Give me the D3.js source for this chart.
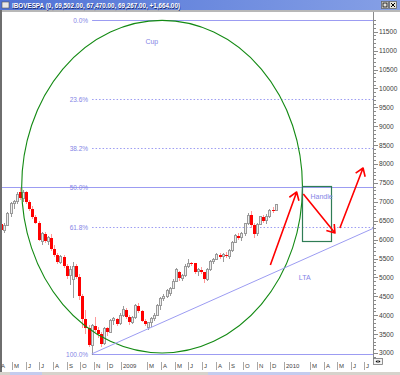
<!DOCTYPE html>
<html>
<head>
<meta charset="utf-8">
<script src="https://cdn.jsdelivr.net/npm/d3@7"></script>
<style>
  html, body { margin: 0; padding: 0; background: #fff; }
  svg { display: block; font-family: "Liberation Sans", Arial, sans-serif; }
</style>
</head>
<body>
<svg id="chart" width="400" height="375"></svg>
<script>
// weekly candles, IBOVESPA / 10, one per week starting on Monday
const firstWeek = "2008-03-31";
const opens  = [6080,6420,6250,6380,6680,6950,7000,7250,7100,7250, 7000,6800,6600,6450,5950,6150,5950,6050,5750,5600,
                5400,5550,5300,5050,4950,5300,5000,4500,3900,3650, 3200,3720,3600,3500,3250,3650,3550,3850,3900,3780,
                4000,4150,3950,3820,3950,4250,4100,3850,3680,3800, 3900,4000,4250,4450,4500,4580,4700,4900,5150,4980,
                5050,5300,5380,5370,5150,5200,5130,4950,5200,5420, 5480,5600,5550,5600,5560,5700,5920,6100,6050,6150,
                6420,6650,6380,6150,6400,6600,6500,6620,6780,6760];
const highs  = [6480,6480,6430,6720,7000,7060,7250,7360,7300,7280, 7050,6900,6650,6480,6200,6200,6100,6150,5850,5650,
                5600,5600,5350,5300,5400,5350,5100,4550,4150,3750, 3780,3950,3700,3550,3700,3700,3900,3950,3920,4050,
                4250,4180,4000,3980,4300,4320,4150,3900,3830,3950, 4050,4300,4480,4560,4680,4750,4950,5250,5180,5100,
                5350,5480,5420,5380,5250,5280,5150,5250,5450,5520, 5650,5650,5650,5680,5750,5950,6150,6180,6200,6450,
                6700,6750,6450,6450,6620,6650,6680,6820,6850,6950];
const lows   = [6050,6200,6180,6350,6600,6800,6950,7050,7000,6950, 6750,6550,6400,5950,5850,5900,5850,5700,5550,5350,
                5350,5250,4950,4800,4450,4950,4400,3650,3500,3150, 2950,3550,3400,3150,3200,3450,3520,3750,3720,3750,
                3950,3900,3750,3780,3900,4050,3820,3720,3600,3700, 3850,3980,4150,4380,4450,4520,4680,4880,4900,4900,
                5000,5250,5300,5080,5050,5080,4850,4900,5180,5350, 5450,5500,5400,5520,5500,5680,5900,5980,5950,6100,
                6380,6300,6050,6100,6380,6450,6400,6580,6700,6747];
const closes = [6420,6250,6380,6680,6950,7000,7200,7100,7250,7000, 6800,6600,6450,6000,6150,5950,6050,5750,5600,5400,
                5550,5300,5050,5200,5300,5000,4500,3900,3650,3200, 3720,3600,3500,3250,3650,3550,3850,3900,3780,4000,
                4150,3950,3820,3950,4250,4100,3850,3780,3800,3900, 4000,4250,4450,4500,4650,4700,4900,5200,4980,5050,
                5300,5380,5370,5150,5200,5130,4950,5200,5420,5480, 5600,5550,5600,5560,5700,5920,6100,6050,6150,6420,
                6650,6380,6150,6400,6600,6500,6620,6780,6760,6927];

// Fibonacci retracement
const fibHigh = 11800, fibLow = 2975;
const fibLevels = [0, 0.236, 0.382, 0.5, 0.618, 1];
const fibLabels = ["0.0%", "23.6%", "38.2%", "50.0%", "61.8%", "100.0%"];
const fibLabelDate = "2008-10-19";

// axes
const yTicks = d3.range(3000, 11501, 500);
const xTickLabels = ["A","M","J","J","A","S","O","N","D","2009","M","A","M","J","J","A","S","O","N","D","2010","M","A","M","J","J"];

// drawn annotations (date, value)
const cupDates = ["2008-05-23", "2010-02-12"], cupValues = [3000, 11800];
const handleDates = ["2010-02-10", "2010-04-16"], handleValues = [5960, 7420];
const ltaFrom = ["2008-10-27", 2975], ltaTo = ["2010-07-20", 6294];
const arrowFrom = [["2009-12-02", 5330], ["2010-02-14", 7206], ["2010-05-07", 6307]];
const arrowTo   = [["2010-01-30", 7260], ["2010-04-26", 6175], ["2010-06-28", 7894]];
const noteTexts = ["Cup", "Handle", "LTA"];
const noteDates = ["2009-03-11", "2010-03-27", "2010-02-17"];
const noteValues = [11250, 7150, 5010];

const title = "IBOVESPA (0, 69,502.00, 67,470.00, 69,267.00, +1,664.00)";

const parse = d3.timeParse("%Y-%m-%d");
const svg = d3.select("#chart");
const W = 400, H = 375;
const plot = { left: 2, right: 373, top: 12, bottom: 358 };

const x = d3.scaleTime()
  .domain([new Date(2008, 3, 1), new Date(2010, 6, 1)])
  .range([-1.5, 364.4]);
const y = d3.scaleLinear().domain([3000, 11500]).range([353, 31.7]);

const weeks = d3.timeMonday.range(parse(firstWeek), d3.timeDay.offset(parse(firstWeek), 7 * opens.length));
const candles = weeks.map((d, i) => ({ date: d, o: opens[i], h: highs[i], l: lows[i], c: closes[i] }));

const lavender = "#9c9cf2", labelBlue = "#8585e6";

// background
svg.append("rect").attr("width", W).attr("height", H).attr("fill", "#fff");

// title bar
const grad = svg.append("defs").append("linearGradient").attr("id", "tb");
grad.append("stop").attr("offset", "0%").attr("stop-color", "#4f72d6");
grad.append("stop").attr("offset", "100%").attr("stop-color", "#86a0e6");
svg.append("rect").attr("width", W).attr("height", 10).attr("fill", "url(#tb)");
svg.append("rect").attr("y", 10).attr("width", W).attr("height", 2).attr("fill", "#b8b8b8");
svg.append("rect").attr("x", 2).attr("y", 2).attr("width", 7).attr("height", 6)
  .attr("fill", "#e8e8e8").attr("stroke", "#555").attr("stroke-width", 0.6);
svg.append("text").attr("x", 12.6).attr("y", 8.6).text(title)
  .attr("font-size", 7).attr("font-weight", "bold").attr("fill", "#1a2a70")
  .attr("textLength", 168).attr("lengthAdjust", "spacingAndGlyphs");
svg.append("text").attr("x", 12).attr("y", 8).text(title)
  .attr("font-size", 7).attr("font-weight", "bold").attr("fill", "#fff")
  .attr("textLength", 168).attr("lengthAdjust", "spacingAndGlyphs");
[381, 389].forEach((bx, i) => {
  svg.append("rect").attr("x", bx + 0.5).attr("y", 1.5).attr("width", 7).attr("height", 7)
    .attr("fill", "#e4e2dc").attr("stroke", "#666").attr("stroke-width", 0.8);
  if (i === 0) {
    svg.append("rect").attr("x", bx + 2).attr("y", 3).attr("width", 4).attr("height", 4)
      .attr("fill", "none").attr("stroke", "#000").attr("stroke-width", 0.8);
  } else {
    svg.append("path").attr("d", `M${bx + 2},3 L${bx + 6},7 M${bx + 6},3 L${bx + 2},7`)
      .attr("stroke", "#000").attr("stroke-width", 1);
  }
});

// window left border
svg.append("rect").attr("x", 0).attr("y", 10).attr("width", 2).attr("height", 362).attr("fill", "#6e6e6e");

// clip for the price pane
svg.append("defs").append("clipPath").attr("id", "pane")
  .append("rect").attr("x", plot.left).attr("y", plot.top)
  .attr("width", plot.right - plot.left).attr("height", plot.bottom - plot.top);
const pane = svg.append("g").attr("clip-path", "url(#pane)");

// fibonacci lines
const fibX = x(parse(fibLabelDate));
fibLevels.forEach((p, i) => {
  const v = fibHigh - p * (fibHigh - fibLow);
  const yy = Math.round(y(v)) + 0.5;
  const dotted = ![0, 0.5, 1].includes(p);
  pane.append("line")
    .attr("x1", p === 0.5 ? plot.left : fibX + 4).attr("x2", plot.right)
    .attr("y1", yy).attr("y2", yy)
    .attr("stroke", lavender).attr("stroke-width", 1)
    .attr("stroke-dasharray", dotted ? "1.5,2" : null);
  pane.append("text").attr("x", fibX).attr("y", yy + 2.3)
    .attr("text-anchor", "end").attr("font-size", 6.5).attr("fill", labelBlue)
    .text(fibLabels[i]);
});

// candles
const cg = pane.append("g").attr("shape-rendering", "crispEdges");
cg.selectAll("line.wick").data(candles).join("line")
  .attr("class", "wick")
  .attr("x1", d => Math.round(x(d.date)) + 0.5).attr("x2", d => Math.round(x(d.date)) + 0.5)
  .attr("y1", d => y(d.h)).attr("y2", d => y(d.l))
  .attr("stroke", d => d.c >= d.o ? "#9a9a9a" : "#ff9a9a");
cg.selectAll("rect.body").data(candles).join("rect")
  .attr("class", "body")
  .attr("x", d => d.c >= d.o ? Math.round(x(d.date)) - 0.5 : Math.round(x(d.date)) - 1)
  .attr("width", d => d.c >= d.o ? 2 : 3)
  .attr("y", d => y(Math.max(d.o, d.c)))
  .attr("height", d => Math.max(1, y(Math.min(d.o, d.c)) - y(Math.max(d.o, d.c))))
  .attr("fill", d => d.c >= d.o ? "#eeeeee" : "#ff0000")
  .attr("stroke", d => d.c >= d.o ? "#9a9a9a" : "none")
  .attr("stroke-width", 1);

// cup
const cx0 = x(parse(cupDates[0])), cx1 = x(parse(cupDates[1]));
const cy0 = y(cupValues[1]), cy1 = y(cupValues[0]);
pane.append("ellipse")
  .attr("cx", (cx0 + cx1) / 2).attr("cy", (cy0 + cy1) / 2)
  .attr("rx", (cx1 - cx0) / 2).attr("ry", (cy1 - cy0) / 2)
  .attr("fill", "none").attr("stroke", "#138a13").attr("stroke-width", 1.1);

// LTA trend line
pane.append("line")
  .attr("x1", x(parse(ltaFrom[0]))).attr("y1", y(ltaFrom[1]))
  .attr("x2", x(parse(ltaTo[0]))).attr("y2", y(ltaTo[1]))
  .attr("stroke", lavender).attr("stroke-width", 1);

// handle box
const hx0 = Math.round(x(parse(handleDates[0]))) + 0.5, hx1 = Math.round(x(parse(handleDates[1]))) + 0.5;
const hy0 = Math.round(y(handleValues[1])) + 0.5, hy1 = Math.round(y(handleValues[0])) + 0.5;
pane.append("rect").attr("x", hx0).attr("y", hy0).attr("width", hx1 - hx0).attr("height", hy1 - hy0)
  .attr("fill", "none").attr("stroke", "#2f7d55").attr("stroke-width", 1.2);

// red arrows
arrowFrom.forEach((f, i) => {
  const x1 = x(parse(f[0])), y1 = y(f[1]);
  const x2 = x(parse(arrowTo[i][0])), y2 = y(arrowTo[i][1]);
  const a = Math.atan2(y2 - y1, x2 - x1) + Math.PI, len = 9, spread = 0.6;
  const p = d3.path();
  p.moveTo(x1, y1); p.lineTo(x2, y2);
  p.moveTo(x2 + len * Math.cos(a - spread), y2 + len * Math.sin(a - spread));
  p.lineTo(x2, y2);
  p.lineTo(x2 + len * Math.cos(a + spread), y2 + len * Math.sin(a + spread));
  pane.append("path").attr("d", p.toString())
    .attr("fill", "none").attr("stroke", "#ff0000").attr("stroke-width", 1.6)
    .attr("stroke-linejoin", "round");
});

// notes
noteTexts.forEach((t, i) => {
  pane.append("text").attr("x", x(parse(noteDates[i]))).attr("y", y(noteValues[i]) + 2.5)
    .attr("text-anchor", "middle").attr("font-size", 7).attr("fill", labelBlue).text(t);
});

// right price axis
const ax = svg.append("g").attr("shape-rendering", "crispEdges");
ax.append("line").attr("x1", plot.right + 0.5).attr("x2", plot.right + 0.5)
  .attr("y1", plot.top).attr("y2", plot.bottom).attr("stroke", "#8a8a8a");
const minor = d3.range(2900, 11900, 100).filter(v => y(v) > plot.top && y(v) < plot.bottom);
ax.selectAll("line.mt").data(minor).join("line").attr("class", "mt")
  .attr("x1", plot.right).attr("x2", d => plot.right + (d % 500 === 0 ? 5 : 3))
  .attr("y1", d => Math.round(y(d)) + 0.5).attr("y2", d => Math.round(y(d)) + 0.5)
  .attr("stroke", "#8a8a8a");
svg.selectAll("text.yl").data(yTicks).join("text").attr("class", "yl")
  .attr("x", 379).attr("y", d => y(d) + 2.4)
  .attr("font-size", 6.6).attr("fill", "#3c3c3c").text(d => d);

// bottom time axis
const months = d3.timeMonth.range(new Date(2008, 3, 1), new Date(2010, 7, 1)).filter(d => d.getMonth() !== 1);
const xa = svg.append("g");
xa.selectAll("line").data(months).join("line")
  .attr("x1", d => Math.round(x(d)) + 0.5).attr("x2", d => Math.round(x(d)) + 0.5)
  .attr("y1", 362).attr("y2", 370).attr("stroke", "#a8a8a8").attr("shape-rendering", "crispEdges");
xa.selectAll("text").data(months).join("text")
  .attr("x", d => Math.round(x(d)) + 2).attr("y", 368.3)
  .attr("font-size", 6).attr("fill", "#444").text((d, i) => xTickLabels[i]);

// scroll box and bottom strip
svg.append("rect").attr("x", 373.5).attr("y", 358.5).attr("width", 9).attr("height", 6)
  .attr("fill", "#f4f4f4").attr("stroke", "#777").attr("stroke-width", 0.8);
svg.append("path").attr("d", "M375.5,361.5 l2,-1.5 v3 z M380.5,361.5 l-2,-1.5 v3 z").attr("fill", "#000");
svg.append("rect").attr("y", 372).attr("width", W).attr("height", 3).attr("fill", "#d6d3cc");
svg.append("rect").attr("x", 10).attr("y", 372).attr("width", 32).attr("height", 3).attr("fill", "#c4ccee");
svg.append("rect").attr("x", 208).attr("y", 372).attr("width", 102).attr("height", 3).attr("fill", "#c4ccee");
</script>
</body>
</html>
